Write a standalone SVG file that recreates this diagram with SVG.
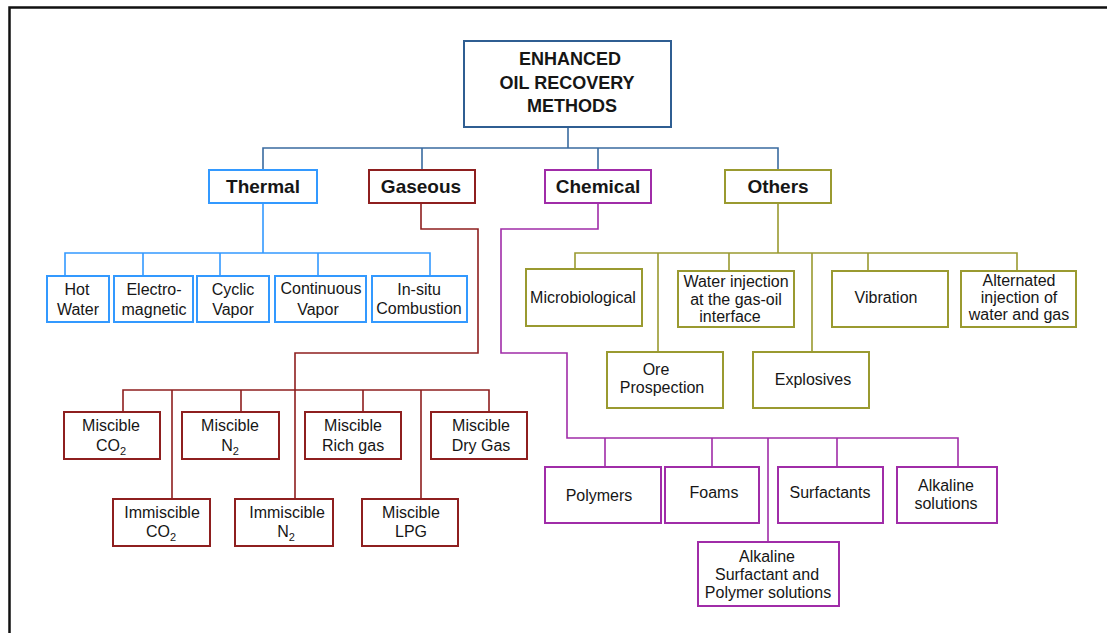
<svg xmlns="http://www.w3.org/2000/svg" width="1107" height="633" viewBox="0 0 1107 633">
<style>
text{font-family:"Liberation Sans",Arial,sans-serif;fill:#161616;text-anchor:middle}
.t{font-size:16px}
.h{font-size:19px;font-weight:bold}
.r{font-size:18px;font-weight:bold}
rect{fill:#fff;stroke-width:2}
.conn path{fill:none;stroke-width:1.6}
.blu{stroke:#3A6BA0}
.th{stroke:#3399FF}
.ga{stroke:#8E1F1F}
.ch{stroke:#A02CA8}
.ot{stroke:#9A9A30}
.sub{font-size:11px}
</style>
<rect x="0" y="0" width="1107" height="633" style="fill:#fff;stroke:none"/>
<path d="M9.5,633 V7.5 H1107" fill="none" stroke="#111" stroke-width="2.5"/>

<g class="conn" id="connectors">
<path class="blu" d="M568,127 V148 M263,170 V148 H778 V170 M422,148 V170 M598,148 V170"/>
<path class="th" d="M263,203 V253 M65,276 V253 H430 V276 M143,253 V276 M220,253 V276 M318,253 V276"/>
<path class="ga" d="M421,203 V229 H478 V353 H295 V499 M123,412 V390 H489 V412 M172,390 V499 M241,390 V412 M363,390 V412 M421,390 V499"/>
<path class="ch" d="M598,203 V229 H501 V353 H567 V438 H958 V467 M605,438 V467 M712,438 V467 M768,438 V542 M837,438 V467"/>
<path class="ot" d="M778,203 V253 M575,269 V253 H1017 V271 M658,253 V352 M729,253 V271 M812,253 V352 M868,253 V271"/>
</g>

<g id="root"><rect class="blu" x="464" y="41" width="207" height="86" style="stroke:#2F5E92"/>
<text class="r" x="570" y="65">ENHANCED</text><text class="r" x="567" y="89">OIL RECOVERY</text><text class="r" x="572" y="112">METHODS</text></g>

<g id="thermal"><rect class="th" x="209" y="170" width="108" height="33"/><text class="h" x="263" y="193">Thermal</text></g>
<g id="gaseous"><rect class="ga" x="369" y="170" width="106" height="33"/><text class="h" x="421" y="193">Gaseous</text></g>
<g id="chemical"><rect class="ch" x="545" y="170" width="106" height="33"/><text class="h" x="598" y="193">Chemical</text></g>
<g id="others"><rect class="ot" x="725" y="170" width="106" height="33"/><text class="h" x="778" y="193">Others</text></g>

<g id="hot-water"><rect class="th" x="47" y="276" width="62" height="46"/><text class="t" x="77" y="295">Hot</text><text class="t" x="78" y="315">Water</text></g>
<g id="electromagnetic"><rect class="th" x="114" y="276" width="79" height="46"/><text class="t" x="154" y="295">Electro-</text><text class="t" x="154" y="315">magnetic</text></g>
<g id="cyclic-vapor"><rect class="th" x="197" y="276" width="72" height="46"/><text class="t" x="233" y="295">Cyclic</text><text class="t" x="233" y="315">Vapor</text></g>
<g id="continuous-vapor"><rect class="th" x="275" y="276" width="91" height="46"/><text class="t" x="321" y="294">Continuous</text><text class="t" x="318" y="315">Vapor</text></g>
<g id="insitu-combustion"><rect class="th" x="372" y="276" width="95" height="46"/><text class="t" x="419" y="295">In-situ</text><text class="t" x="419" y="314">Combustion</text></g>

<g id="miscible-co2"><rect class="ga" x="64" y="412" width="96" height="47"/><text class="t" x="111" y="431">Miscible</text><text class="t" x="111" y="451">CO<tspan class="sub" dy="4">2</tspan></text></g>
<g id="miscible-n2"><rect class="ga" x="182" y="412" width="97" height="47"/><text class="t" x="230" y="431">Miscible</text><text class="t" x="230" y="451">N<tspan class="sub" dy="4">2</tspan></text></g>
<g id="miscible-rich-gas"><rect class="ga" x="305" y="412" width="96" height="47"/><text class="t" x="353" y="431">Miscible</text><text class="t" x="353" y="451">Rich gas</text></g>
<g id="miscible-dry-gas"><rect class="ga" x="431" y="412" width="96" height="47"/><text class="t" x="481" y="431">Miscible</text><text class="t" x="481" y="451">Dry Gas</text></g>
<g id="immiscible-co2"><rect class="ga" x="113" y="499" width="97" height="47"/><text class="t" x="162" y="518">Immiscible</text><text class="t" x="161" y="537">CO<tspan class="sub" dy="4">2</tspan></text></g>
<g id="immiscible-n2"><rect class="ga" x="235" y="499" width="98" height="47"/><text class="t" x="287" y="518">Immiscible</text><text class="t" x="286" y="537">N<tspan class="sub" dy="4">2</tspan></text></g>
<g id="miscible-lpg"><rect class="ga" x="362" y="499" width="96" height="47"/><text class="t" x="411" y="518">Miscible</text><text class="t" x="411" y="537">LPG</text></g>

<g id="microbiological"><rect class="ot" x="526" y="269" width="116" height="57"/><text class="t" x="583" y="303">Microbiological</text></g>
<g id="water-injection"><rect class="ot" x="678" y="271" width="116" height="56"/><text class="t" x="736" y="287">Water injection</text><text class="t" x="736" y="305">at the gas-oil</text><text class="t" x="730" y="322">interface</text></g>
<g id="vibration"><rect class="ot" x="832" y="271" width="116" height="56"/><text class="t" x="886" y="303">Vibration</text></g>
<g id="alternated"><rect class="ot" x="961" y="271" width="115" height="56"/><text class="t" x="1019" y="286">Alternated</text><text class="t" x="1019" y="303">injection of</text><text class="t" x="1019" y="320">water and gas</text></g>
<g id="ore-prospection"><rect class="ot" x="607" y="352" width="116" height="56"/><text class="t" x="656" y="375">Ore</text><text class="t" x="662" y="393">Prospection</text></g>
<g id="explosives"><rect class="ot" x="753" y="352" width="116" height="56"/><text class="t" x="813" y="385">Explosives</text></g>

<g id="polymers"><rect class="ch" x="545" y="467" width="116" height="56"/><text class="t" x="599" y="501">Polymers</text></g>
<g id="foams"><rect class="ch" x="665" y="467" width="94" height="56"/><text class="t" x="714" y="498">Foams</text></g>
<g id="surfactants"><rect class="ch" x="778" y="467" width="105" height="56"/><text class="t" x="830" y="498">Surfactants</text></g>
<g id="alkaline-solutions"><rect class="ch" x="897" y="467" width="100" height="56"/><text class="t" x="946" y="491">Alkaline</text><text class="t" x="946" y="509">solutions</text></g>
<g id="asp"><rect class="ch" x="698" y="542" width="141" height="64"/><text class="t" x="767" y="562">Alkaline</text><text class="t" x="767" y="580">Surfactant and</text><text class="t" x="768" y="598">Polymer solutions</text></g>
</svg>
